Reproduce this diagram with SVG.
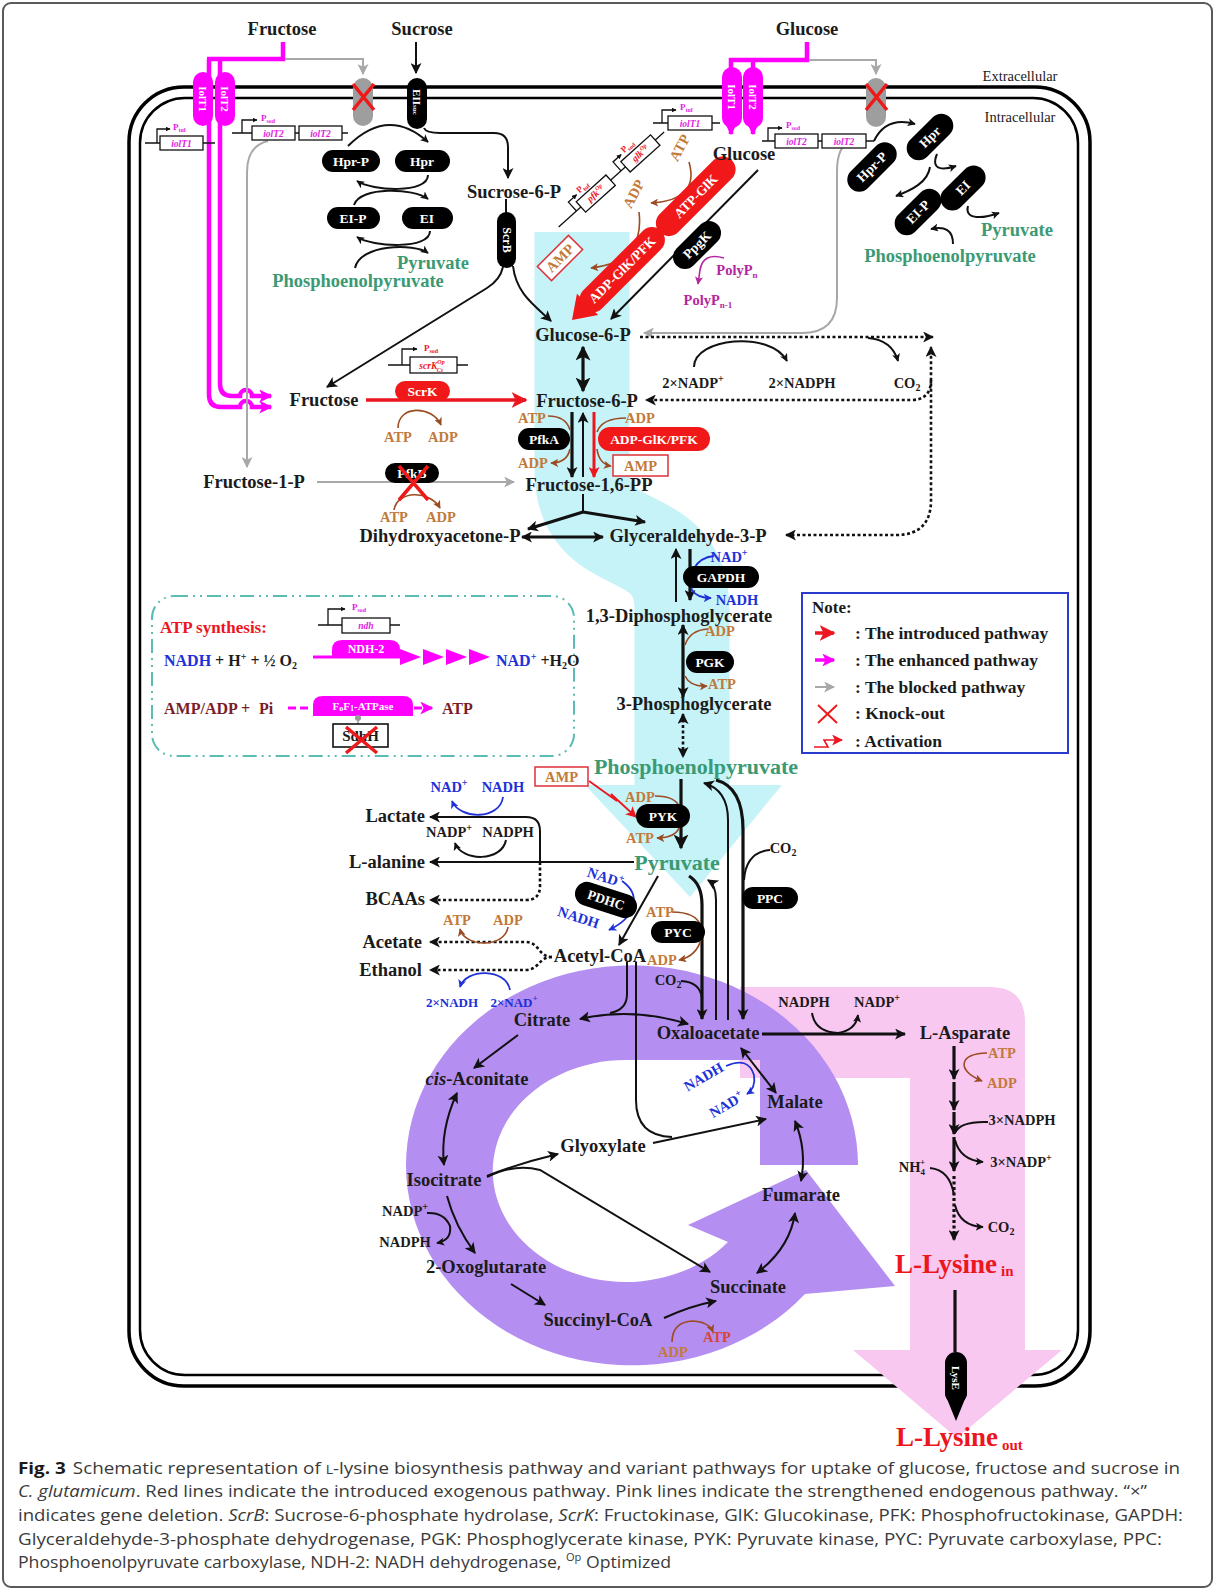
<svg xmlns="http://www.w3.org/2000/svg" width="1215" height="1591" viewBox="0 0 1215 1591">
<defs>
<style>
text{font-family:"Liberation Serif","Times New Roman",serif;font-weight:bold;fill:#1b1b1b}
.c{text-anchor:middle}
.e{text-anchor:end}
.L{font-size:18.5px}
.B{font-size:22px}
.S{font-size:14.5px}
.gr{fill:#3b9a74}
.or{fill:#c27a3a}
.bl{fill:#2131d8}
.rd{fill:#ec1620}
.mg{fill:#e11ee1}
.pp{fill:#b5259f}
.mr{fill:#7b1d28}
.pt{fill:#fff;font-size:13.5px;text-anchor:middle;dominant-baseline:central}
.pill{fill:#000}
.rpill{fill:#f01818}
.gi{font-size:9.5px;font-style:italic;text-anchor:middle}
.pl{font-size:9px}
.ln{fill:none;stroke:#111;stroke-width:2}
.th{fill:none;stroke:#111;stroke-width:3.2}
.dt{fill:none;stroke:#111;stroke-width:2.6;stroke-dasharray:3 2.5}
.gy{fill:none;stroke:#a8a8a8;stroke-width:2}
.mgl{fill:none;stroke:#ff00ff;stroke-width:4.5}
.br{fill:none;stroke:#9b4b22;stroke-width:1.6}
.bu{fill:none;stroke:#2131d8;stroke-width:1.8}
.gl{fill:none;stroke:#111;stroke-width:1.3}
.gb{fill:#fff;stroke:#111;stroke-width:1.3}
.cap{font-family:"Open Sans","Liberation Sans",sans-serif;font-weight:normal;font-size:16px;fill:#3a3a3a}
</style>
<marker id="ak" viewBox="0 0 10 10" refX="9" refY="5" markerWidth="11" markerHeight="11" markerUnits="userSpaceOnUse" orient="auto-start-reverse"><path d="M0,0 L10,5 L0,10 L2.5,5 z" fill="#111"/></marker>
<marker id="akl" viewBox="0 0 10 10" refX="9" refY="5" markerWidth="15" markerHeight="15" markerUnits="userSpaceOnUse" orient="auto-start-reverse"><path d="M0,0 L10,5 L0,10 L2.5,5 z" fill="#111"/></marker>
<marker id="aks" viewBox="0 0 10 10" refX="9" refY="5" markerWidth="8" markerHeight="8" markerUnits="userSpaceOnUse" orient="auto-start-reverse"><path d="M0,0 L10,5 L0,10 L2.5,5 z" fill="#111"/></marker>
<marker id="ar" viewBox="0 0 10 10" refX="9" refY="5" markerWidth="16" markerHeight="16" markerUnits="userSpaceOnUse" orient="auto-start-reverse"><path d="M0,0 L10,5 L0,10 L2.5,5 z" fill="#ec1620"/></marker>
<marker id="ars" viewBox="0 0 10 10" refX="9" refY="5" markerWidth="11" markerHeight="11" markerUnits="userSpaceOnUse" orient="auto-start-reverse"><path d="M0,0 L10,5 L0,10 L2.5,5 z" fill="#ec1620"/></marker>
<marker id="am" viewBox="0 0 10 10" refX="9" refY="5" markerWidth="13" markerHeight="13" markerUnits="userSpaceOnUse" orient="auto-start-reverse"><path d="M0,0 L10,5 L0,10 L2.5,5 z" fill="#ff00ff"/></marker>
<marker id="ams" viewBox="0 0 10 10" refX="9" refY="5" markerWidth="8" markerHeight="8" markerUnits="userSpaceOnUse" orient="auto-start-reverse"><path d="M0,0 L10,5 L0,10 L2.5,5 z" fill="#b5259f"/></marker>
<marker id="ag" viewBox="0 0 10 10" refX="9" refY="5" markerWidth="11" markerHeight="11" markerUnits="userSpaceOnUse" orient="auto-start-reverse"><path d="M0,0 L10,5 L0,10 L2.5,5 z" fill="#a8a8a8"/></marker>
<marker id="ab" viewBox="0 0 10 10" refX="9" refY="5" markerWidth="8" markerHeight="8" markerUnits="userSpaceOnUse" orient="auto-start-reverse"><path d="M0,0 L10,5 L0,10 L2.5,5 z" fill="#9b4b22"/></marker>
<marker id="au" viewBox="0 0 10 10" refX="9" refY="5" markerWidth="8" markerHeight="8" markerUnits="userSpaceOnUse" orient="auto-start-reverse"><path d="M0,0 L10,5 L0,10 L2.5,5 z" fill="#2131d8"/></marker>
<marker id="ap" viewBox="0 0 10 10" refX="9" refY="5" markerWidth="5" markerHeight="5" markerUnits="userSpaceOnUse" orient="auto"><path d="M0,0 L10,5 L0,10 z" fill="#111"/></marker>
</defs>

<!-- page frame and cell envelope -->
<rect id="figure-frame" x="3" y="3" width="1209" height="1584" rx="8" fill="#fff" stroke="#5a5a5a" stroke-width="2"/>
<g id="membrane" fill="none" stroke="#000">
<rect x="129" y="87" width="961" height="1299" rx="55" stroke-width="3.5"/>
<rect x="140" y="98" width="938" height="1277" rx="45" stroke-width="2.5"/>
</g>

<!-- broad flux bands: glycolysis (cyan), lysine (pink), TCA ring (purple) -->
<g id="flux-bands">
<path d="M582,232 V470 C582,560 682,520 682,610 V790" fill="none" stroke="#c6f3f8" stroke-width="95"/>
<polygon points="585,785 782,785 690,897" fill="#c6f3f8"/>
<path d="M740,987 H990 Q1025,987 1025,1022 V1350 H1062 L957,1438 L853,1350 H910 V1078 H740 Z" fill="#f9c8f1"/>
<path d="M858,1165 A226,200 0 1 0 805,1294 L895,1286 L806,1170 L688,1225 L728,1242 A133,111 0 1 1 626,1060 L760,1060 L760,1165 Z" fill="#b48ef0"/>
</g>

<text x="1020" y="81" class="c" style="font-size:14.5px;font-weight:normal">Extracellular</text>
<text x="1020" y="122" class="c" style="font-size:14.5px;font-weight:normal">Intracellular</text>

<g id="connectors">
<!-- enhanced IolT uptake -->
<path class="mgl" d="M283,42 V59 H207"/>
<path class="mgl" d="M209,59 V395 Q209,407 221,407 H240 A6,6 0 0 1 252,407 H271" marker-end="url(#am)"/>
<path class="mgl" d="M220,59 V384 Q220,396 232,396 H240 A6,6 0 0 1 252,396 H271" marker-end="url(#am)"/>
<path class="mgl" d="M807,42 V60 H731 V134" marker-end="url(#am)"/>
<path class="mgl" d="M753,60 V134" marker-end="url(#am)"/>
<!-- blocked PTS routes -->
<path class="gy" d="M285,59 H363 V74" marker-end="url(#ag)"/>
<path class="gy" d="M809,60 H876 V74" marker-end="url(#ag)"/>
<path class="gy" d="M268,141 Q247,146 247,172 V467" marker-end="url(#ag)"/>
<path class="gy" d="M850,142 Q837,146 837,172 V298 Q837,333 802,333 H644" marker-end="url(#ag)"/>
<path class="gy" d="M317,482 H514" marker-end="url(#ag)"/>
<!-- sucrose -->
<path class="ln" d="M416,42 V73" marker-end="url(#ak)"/>
<path class="ln" d="M424,128 Q426,133 440,133 H494 Q508,133 508,147 V178" marker-end="url(#ak)"/>
<path class="ln" d="M506,199 V214"/>
<path class="ln" d="M513,266 C516,293 534,305 551,321" marker-end="url(#ak)"/>
<path class="ln" d="M503,267 Q500,280 487,288 L327,387" marker-end="url(#ak)"/>
<!-- PTS phosphoryl relay, left -->
<path class="ln" d="M348,146 Q388,106 428,142" marker-end="url(#aks)"/>
<path class="ln" d="M428,175 C428,194 372,191 357,181" marker-end="url(#aks)"/>
<path class="ln" d="M354,205 C360,186 414,188 428,199" marker-end="url(#aks)"/>
<path class="ln" d="M430,231 C430,250 372,247 357,237" marker-end="url(#aks)"/>
<path class="ln" d="M355,268 C360,244 414,243 428,253" marker-end="url(#aks)"/>
<!-- PTS phosphoryl relay, right -->
<path class="ln" d="M874,141 Q886,116 915,124" marker-end="url(#aks)"/>
<path class="ln" d="M937,154 C930,171 944,170 956,166" marker-end="url(#aks)"/>
<path class="ln" d="M930,167 C928,182 912,190 896,196" marker-end="url(#aks)"/>
<path class="ln" d="M968,206 C964,221 985,218 999,213" marker-end="url(#aks)"/>
<path class="ln" d="M953,244 C953,230 945,226 931,229" marker-end="url(#aks)"/>
<!-- glucose phosphorylation -->
<path class="ln" d="M758,170 L611,319" marker-end="url(#ak)"/>
<path class="br" d="M689,162 Q700,200 651,203" marker-end="url(#ab)"/>
<path class="br" d="M639,212 Q645,262 591,268" marker-end="url(#ab)"/>
<path d="M724,258 Q703,252 700,270 L698,284" fill="none" stroke="#b5259f" stroke-width="1.6" marker-end="url(#ams)"/>
<!-- upper glycolysis -->
<path class="th" d="M583,347 V391" marker-start="url(#akl)" marker-end="url(#akl)"/>
<path class="th" d="M572,412 V477" marker-end="url(#ak)"/>
<path class="ln" d="M583,477 V413" marker-end="url(#ak)"/>
<path d="M594,412 V477" fill="none" stroke="#ec1620" stroke-width="3" marker-end="url(#ars)"/>
<path class="br" d="M548,416 Q566,416 570,430"/>
<path class="br" d="M570,449 Q567,463 551,463" marker-end="url(#ab)"/>
<path class="br" d="M626,418 Q602,418 597,432"/>
<path class="br" d="M597,449 Q599,464 611,466" marker-end="url(#ab)"/>
<path d="M366,400 H526" fill="none" stroke="#ec1620" stroke-width="3.5" marker-end="url(#ar)"/>
<path class="br" d="M398,428 C398,405 432,405 441,425" marker-end="url(#ab)"/>
<path class="br" d="M394,510 C397,490 430,490 440,508" marker-end="url(#ab)"/>
<path class="ln" d="M583,494 V512"/>
<path class="th" d="M583,512 L528,529" marker-end="url(#ak)"/>
<path class="th" d="M583,512 L645,522" marker-end="url(#ak)"/>
<path class="th" d="M522,537 H603" marker-start="url(#ak)" marker-end="url(#ak)"/>
<!-- lower glycolysis -->
<path class="ln" d="M676,602 V549" marker-end="url(#ak)"/>
<path class="th" d="M690,549 V600" marker-end="url(#ak)"/>
<path class="bu" d="M714,556 C694,558 688,576 692,590 Q697,598 711,598" marker-end="url(#au)"/>
<path class="th" d="M683,625 V697" marker-start="url(#ak)" marker-end="url(#ak)"/>
<path class="br" d="M708,629 Q690,630 685,645"/>
<path class="br" d="M685,676 Q690,687 707,686" marker-end="url(#ab)"/>
<path class="dt" d="M683,714 V757" marker-start="url(#ak)" marker-end="url(#ak)"/>
<path class="th" d="M681,779 V848" marker-end="url(#akl)"/>
<path class="br" d="M655,796 Q676,796 680,808"/>
<path class="br" d="M680,826 Q676,838 657,838" marker-end="url(#ab)"/>
<path d="M589,781 L617,801 L611,794 L636,817" fill="none" stroke="#ec1620" stroke-width="1.8" marker-end="url(#ars)"/>
<!-- pentose phosphate shunt -->
<path class="dt" d="M640,337 H933" marker-end="url(#ak)"/>
<path class="dt" d="M786,535 H896 Q931,535 931,500 V347" marker-start="url(#ak)" marker-end="url(#ak)"/>
<path class="dt" d="M931,380 Q931,400 911,400 H646" marker-end="url(#ak)"/>
<path class="ln" d="M694,367 C694,338 770,330 787,361" marker-end="url(#aks)"/>
<path class="ln" d="M868,338 Q892,340 898,361" marker-end="url(#aks)"/>
<!-- pyruvate node branches -->
<path class="ln" d="M634,862 H430" marker-end="url(#ak)"/>
<path class="ln" d="M540,862 V831 Q540,817 526,817 H430" marker-end="url(#ak)"/>
<path class="dt" d="M540,862 V886 Q540,900 526,900 H430" marker-end="url(#ak)"/>
<path class="bu" d="M503,797 C500,820 460,820 452,801" marker-end="url(#au)"/>
<path class="ln" d="M506,840 C502,862 462,862 455,843" marker-end="url(#aks)"/>
<path class="ln" d="M658,876 L619,945" marker-end="url(#ak)"/>
<path class="bu" d="M622,881 C642,895 636,917 609,930" marker-end="url(#au)"/>
<path class="dt" d="M552,957 C538,957 540,942 525,942 H430" marker-end="url(#ak)"/>
<path class="dt" d="M552,957 C538,957 540,970 525,970 H430" marker-end="url(#ak)"/>
<path class="br" d="M508,927 C505,948 465,948 460,929" marker-end="url(#ab)"/>
<path class="bu" d="M510,990 C506,968 466,968 460,987" marker-end="url(#au)"/>
<!-- anaplerotic reactions -->
<path class="th" d="M689,876 Q702,884 702,905 V1019" marker-end="url(#ak)"/>
<path class="br" d="M672,912 Q696,912 701,926"/>
<path class="br" d="M701,939 Q697,956 679,960" marker-end="url(#ab)"/>
<path class="ln" d="M716,1020 V900 Q716,885 708,880" marker-end="url(#ak)"/>
<path class="ln" d="M728,1020 V820 Q728,790 704,783" marker-end="url(#ak)"/>
<path class="th" d="M716,780 Q743,787 743,830 V1019" marker-end="url(#ak)"/>
<path class="ln" d="M770,850 Q746,852 744,880"/>
<path class="ln" d="M681,981 Q700,982 702,998"/>
<!-- TCA cycle and glyoxylate shunt -->
<path class="ln" d="M580,1019 Q632,1007 688,1024" marker-start="url(#ak)" marker-end="url(#ak)"/>
<path class="ln" d="M627,962 V994 Q627,1010 610,1013"/>
<path class="ln" d="M636,962 V1100 Q636,1136 672,1137"/>
<path class="ln" d="M653,1143 L766,1119" marker-end="url(#ak)"/>
<path class="ln" d="M487,1176 Q520,1163 558,1154" marker-end="url(#ak)"/>
<path class="ln" d="M487,1177 Q515,1163 540,1170 L710,1272" marker-end="url(#ak)"/>
<path class="ln" d="M518,1035 L474,1068" marker-end="url(#ak)"/>
<path class="ln" d="M457,1093 Q440,1130 444,1165" marker-start="url(#ak)" marker-end="url(#ak)"/>
<path class="ln" d="M447,1196 Q455,1226 475,1253" marker-end="url(#ak)"/>
<path class="ln" d="M427,1213 Q444,1212 450,1226 Q452,1240 437,1243" marker-end="url(#aks)"/>
<path class="ln" d="M511,1284 L545,1305" marker-end="url(#ak)"/>
<path class="ln" d="M664,1318 Q690,1306 716,1301" marker-end="url(#ak)"/>
<path class="br" d="M672,1342 Q672,1322 693,1321 Q709,1322 713,1332" marker-end="url(#ab)"/>
<path class="ln" d="M757,1273 Q790,1248 795,1213" marker-start="url(#ak)" marker-end="url(#ak)"/>
<path class="ln" d="M801,1181 Q807,1150 795,1121" marker-start="url(#ak)" marker-end="url(#ak)"/>
<path class="ln" d="M776,1093 L741,1048" marker-start="url(#ak)" marker-end="url(#ak)"/>
<path class="bu" d="M726,1066 Q748,1056 754,1075 Q756,1088 747,1094" marker-end="url(#au)"/>
<!-- lysine branch -->
<path class="th" d="M762,1034 H905" marker-end="url(#ak)"/>
<path class="ln" d="M812,1013 Q815,1032 838,1033 Q856,1030 858,1015" marker-end="url(#aks)"/>
<path class="th" d="M954,1046 V1079" marker-end="url(#ak)"/>
<path class="th" d="M954,1082 V1110" marker-end="url(#ak)"/>
<path class="th" d="M954,1112 V1134" marker-end="url(#ak)"/>
<path class="th" d="M954,1137 V1171" marker-end="url(#ak)"/>
<path class="dt" d="M954,1176 V1240" style="stroke-width:3.2" marker-end="url(#ak)"/>
<path class="br" d="M987,1053 C960,1053 955,1070 982,1081" marker-end="url(#ab)"/>
<path class="ln" d="M988,1122 Q960,1121 955,1133"/>
<path class="ln" d="M955,1140 Q960,1160 983,1162" marker-end="url(#aks)"/>
<path class="ln" d="M930,1168 Q950,1170 954,1195"/>
<path class="ln" d="M955,1205 Q960,1226 983,1227" marker-end="url(#aks)"/>
<path class="th" d="M955,1290 V1352"/>
</g>

<!-- transporters -->
<g id="t-iolT1-fru"><rect x="193" y="72" width="20" height="54" rx="10" fill="#ff00ff"/><text class="pt" transform="translate(203,99) rotate(90)" style="font-size:11px">IolT1</text></g>
<g id="t-iolT2-fru"><rect x="215" y="72" width="20" height="54" rx="10" fill="#ff00ff"/><text class="pt" transform="translate(225,99) rotate(90)" style="font-size:11px">IolT2</text></g>
<g id="t-pts-fru"><rect x="353" y="78" width="20" height="48" rx="10" fill="#9e9e9e"/><path d="M353,84 L374,110 M374,84 L353,110" stroke="#ee1a1a" stroke-width="3.5"/></g>
<g id="t-eiisuc"><rect x="407" y="78" width="20" height="51" rx="10" class="pill"/><text class="pt" transform="translate(417,102) rotate(90)" style="font-size:11px">EII<tspan font-size="7" dy="2">suc</tspan></text></g>
<g id="t-iolT1-glc"><rect x="722" y="67" width="20" height="61" rx="10" fill="#ff00ff"/><text class="pt" transform="translate(732,97) rotate(90)" style="font-size:11px">IolT1</text></g>
<g id="t-iolT2-glc"><rect x="743" y="67" width="20" height="61" rx="10" fill="#ff00ff"/><text class="pt" transform="translate(753,97) rotate(90)" style="font-size:11px">IolT2</text></g>
<g id="t-pts-glc"><rect x="866" y="78" width="20" height="49" rx="10" fill="#9e9e9e"/><path d="M866,84 L887,110 M887,84 L866,110" stroke="#ee1a1a" stroke-width="3.5"/></g>
<g id="t-lysE"><rect x="945" y="1352" width="22" height="52" rx="11" class="pill"/><polygon points="945,1394 967,1394 956,1421" class="pill"/><text class="pt" transform="translate(956,1378) rotate(90)" style="font-size:11px">LysE</text></g>

<!-- expression cassettes -->
<g id="g-iolT1-a">
<path class="gl" d="M145,143 H215"/>
<rect class="gb" x="160" y="136" width="43" height="14"/>
<text class="gi mg" x="181.5" y="146.5">iolT1</text>
<path class="gl" d="M157,143 V129 H170" marker-end="url(#ap)"/>
<text class="pl mg" x="173" y="130">P<tspan font-size="6" dy="2">tuf</tspan></text>
</g>
<g id="g-iolT2-a">
<path class="gl" d="M232,133 H348"/>
<rect class="gb" x="252" y="126" width="43" height="14"/>
<rect class="gb" x="299" y="126" width="43" height="14"/>
<text class="gi mg" x="273.5" y="136.5">iolT2</text>
<text class="gi mg" x="320.5" y="136.5">iolT2</text>
<path class="gl" d="M242,133 V120 H257" marker-end="url(#ap)"/>
<text class="pl mg" x="261" y="121">P<tspan font-size="6" dy="2">sod</tspan></text>
</g>
<g id="g-iolT1-b">
<path class="gl" d="M653,123 H720"/>
<rect class="gb" x="668" y="116" width="44" height="14"/>
<text class="gi mg" x="690" y="126.5">iolT1</text>
<path class="gl" d="M662,123 V110 H676" marker-end="url(#ap)"/>
<text class="pl mg" x="680" y="110">P<tspan font-size="6" dy="2">tuf</tspan></text>
</g>
<g id="g-iolT2-b">
<path class="gl" d="M762,141 H874"/>
<rect class="gb" x="775" y="134" width="43" height="14"/>
<rect class="gb" x="822" y="134" width="44" height="14"/>
<text class="gi mg" x="796.5" y="144.5">iolT2</text>
<text class="gi mg" x="844" y="144.5">iolT2</text>
<path class="gl" d="M768,141 V128 H782" marker-end="url(#ap)"/>
<text class="pl mg" x="786" y="128">P<tspan font-size="6" dy="2">sod</tspan></text>
</g>
<g id="g-glk-pfk" transform="translate(572,215) rotate(-42)">
<path class="gl" d="M-18,0 H124"/>
<rect class="gb" x="12" y="-7" width="40" height="14"/>
<text class="gi rd" x="32" y="3">pfk<tspan font-size="6" dy="-4">Op</tspan></text>
<path class="gl" d="M6,0 V-12 H17" marker-end="url(#ap)"/>
<text class="pl rd" x="20" y="-11">P<tspan font-size="6" dy="2">tuf</tspan></text>
<rect class="gb" x="72" y="-7" width="40" height="14"/>
<text class="gi rd" x="92" y="3">glk<tspan font-size="6" dy="-4">Op</tspan></text>
<path class="gl" d="M66,0 V-12 H77" marker-end="url(#ap)"/>
<text class="pl rd" x="80" y="-11">P<tspan font-size="6" dy="2">sod</tspan></text>
</g>
<g id="g-scrK">
<path class="gl" d="M388,365 H468"/>
<rect class="gb" x="410" y="357" width="47" height="16"/>
<text class="gi rd" x="432" y="369">scrK<tspan font-size="6" dy="-5">Op</tspan><tspan font-size="6" dx="-8" dy="8">Cs</tspan></text>
<path class="gl" d="M402,365 V349 H417" marker-end="url(#ap)"/>
<text class="pl rd" x="424" y="351">P<tspan font-size="6" dy="2">sod</tspan></text>
</g>

<!-- enzymes -->
<g id="e-hpr-p"><rect x="322" y="150" width="58" height="22" rx="11" class="pill"/><text class="pt" x="351" y="161">Hpr-P</text></g>
<g id="e-hpr"><rect x="395" y="150" width="55" height="22" rx="11" class="pill"/><text class="pt" x="422" y="161">Hpr</text></g>
<g id="e-ei-p"><rect x="327" y="207" width="53" height="22" rx="11" class="pill"/><text class="pt" x="353" y="218">EI-P</text></g>
<g id="e-ei"><rect x="402" y="207" width="51" height="22" rx="11" class="pill"/><text class="pt" x="427" y="218">EI</text></g>
<g id="e-hpr-p-2" transform="translate(872,167) rotate(-45)"><rect x="-30" y="-12" width="60" height="24" rx="12" class="pill"/><text class="pt">Hpr-P</text></g>
<g id="e-hpr-2" transform="translate(930,137) rotate(-45)"><rect x="-28" y="-12" width="56" height="24" rx="12" class="pill"/><text class="pt">Hpr</text></g>
<g id="e-ei-p-2" transform="translate(918,212) rotate(-45)"><rect x="-28" y="-12" width="56" height="24" rx="12" class="pill"/><text class="pt">EI-P</text></g>
<g id="e-ei-2" transform="translate(963,188) rotate(-45)"><rect x="-27" y="-12" width="54" height="24" rx="12" class="pill"/><text class="pt">EI</text></g>
<g id="e-scrB"><rect x="497" y="212" width="19" height="56" rx="9.5" class="pill"/><text class="pt" transform="translate(506.5,240) rotate(90)" style="font-size:12px">ScrB</text></g>
<g id="e-glk" transform="translate(572,320) rotate(-45)">
<polygon points="0,0 22,-15 22,15" fill="#f01818"/>
<rect x="16" y="-13" width="110" height="26" rx="13" class="rpill"/>
<rect x="124" y="-13" width="102" height="26" rx="13" class="rpill"/>
<text class="pt" x="71">ADP-GlK/PFK</text>
<text class="pt" x="175">ATP-GlK</text>
</g>
<g id="e-ppgk" transform="translate(697,245) rotate(-45)"><rect x="-29" y="-12" width="58" height="24" rx="12" class="pill"/><text class="pt">PpgK</text></g>
<g id="e-scrK"><rect x="395" y="381" width="55" height="20" rx="10" class="rpill"/><text class="pt" x="422.5" y="391">ScrK</text></g>
<g id="e-pfkA"><rect x="518" y="428" width="52" height="22" rx="11" class="pill"/><text class="pt" x="544" y="439">PfkA</text></g>
<g id="e-adp-pfk"><rect x="598" y="427" width="112" height="24" rx="12" class="rpill"/><text class="pt" x="654" y="439">ADP-GlK/PFK</text></g>
<g id="e-pfkB"><rect x="385" y="463" width="54" height="20" rx="10" class="pill"/><text class="pt" x="412" y="473">PfkB</text><path d="M399,466 L428,500 M428,466 L399,500" stroke="#ee1a1a" stroke-width="3.5"/></g>
<g id="e-gapdh"><rect x="683" y="566" width="76" height="22" rx="11" class="pill"/><text class="pt" x="721" y="577">GAPDH</text></g>
<g id="e-pgk"><rect x="686" y="651" width="48" height="22" rx="11" class="pill"/><text class="pt" x="710" y="662">PGK</text></g>
<g id="e-pyk"><rect x="636" y="804" width="54" height="24" rx="12" class="pill"/><text class="pt" x="663" y="816">PYK</text></g>
<g id="e-pdhc" transform="translate(606,900) rotate(18)"><rect x="-32" y="-12" width="64" height="24" rx="12" class="pill"/><text class="pt">PDHC</text></g>
<g id="e-pyc"><rect x="651" y="921" width="54" height="22" rx="11" class="pill"/><text class="pt" x="678" y="932">PYC</text></g>
<g id="e-ppc"><rect x="742" y="887" width="56" height="22" rx="11" class="pill"/><text class="pt" x="770" y="898">PPC</text></g>

<!-- metabolites -->
<g id="n-fructose-ext"><text class="L c" x="282" y="35">Fructose</text></g>
<g id="n-sucrose-ext"><text class="L c" x="422" y="35">Sucrose</text></g>
<g id="n-glucose-ext"><text class="L c" x="807" y="35">Glucose</text></g>
<g id="n-glucose"><text class="L c" x="744" y="160">Glucose</text></g>
<g id="n-sucrose6p"><text class="L c" x="514" y="198">Sucrose-6-P</text></g>
<g id="n-g6p"><text class="L c" x="583" y="341">Glucose-6-P</text></g>
<g id="n-fructose"><text class="L c" x="324" y="406">Fructose</text></g>
<g id="n-f6p"><text class="L c" x="587" y="407">Fructose-6-P</text></g>
<g id="n-f16pp"><text class="L c" x="589" y="491">Fructose-1,6-PP</text></g>
<g id="n-f1p"><text class="L c" x="254" y="488">Fructose-1-P</text></g>
<g id="n-dhap"><text class="L c" x="440" y="542">Dihydroxyacetone-P</text></g>
<g id="n-gap"><text class="L c" x="688" y="542">Glyceraldehyde-3-P</text></g>
<g id="n-13dpg"><text class="L c" x="679" y="622">1,3-Diphosphoglycerate</text></g>
<g id="n-3pg"><text class="L c" x="694" y="710">3-Phosphoglycerate</text></g>
<g id="n-pep"><text class="B c gr" x="696" y="774">Phosphoenolpyruvate</text></g>
<g id="n-pyr"><text class="B c gr" x="677" y="870">Pyruvate</text></g>
<g id="n-pts-pyr-a"><text class="L c gr" x="433" y="269">Pyruvate</text></g>
<g id="n-pts-pep-a"><text class="L c gr" x="358" y="287">Phosphoenolpyruvate</text></g>
<g id="n-pts-pyr-b"><text class="L c gr" x="1017" y="236">Pyruvate</text></g>
<g id="n-pts-pep-b"><text class="L c gr" x="950" y="262">Phosphoenolpyruvate</text></g>
<g id="n-lactate"><text class="L e" x="425" y="822">Lactate</text></g>
<g id="n-alanine"><text class="L e" x="425" y="868">L-alanine</text></g>
<g id="n-bcaas"><text class="L e" x="425" y="905">BCAAs</text></g>
<g id="n-acetate"><text class="L e" x="422" y="948">Acetate</text></g>
<g id="n-ethanol"><text class="L e" x="422" y="976">Ethanol</text></g>
<g id="n-acetylcoa"><text class="L c" x="600" y="962">Acetyl-CoA</text></g>
<g id="n-citrate"><text class="L c" x="542" y="1026">Citrate</text></g>
<g id="n-oaa"><text class="L c" x="708" y="1039">Oxaloacetate</text></g>
<g id="n-cisaconitate"><text class="L c" x="477" y="1085"><tspan font-style="italic">cis</tspan>-Aconitate</text></g>
<g id="n-malate"><text class="L c" x="795" y="1108">Malate</text></g>
<g id="n-glyoxylate"><text class="L c" x="603" y="1152">Glyoxylate</text></g>
<g id="n-isocitrate"><text class="L c" x="444" y="1186">Isocitrate</text></g>
<g id="n-fumarate"><text class="L c" x="801" y="1201">Fumarate</text></g>
<g id="n-2og"><text class="L c" x="486" y="1273">2-Oxoglutarate</text></g>
<g id="n-succinate"><text class="L c" x="748" y="1293">Succinate</text></g>
<g id="n-succinylcoa"><text class="L c" x="598" y="1326">Succinyl-CoA</text></g>
<g id="n-asp"><text class="L c" x="965" y="1039">L-Asparate</text></g>
<g id="n-lys-in"><text class="rd" x="895" y="1273" style="font-size:27px">L-Lysine<tspan font-size="15" dx="4" dy="3">in</tspan></text></g>
<g id="n-lys-out"><text class="rd" x="896" y="1446" style="font-size:27px">L-Lysine<tspan font-size="15" dx="4" dy="4">out</tspan></text></g>

<!-- cofactors -->
<g id="cofactors" class="S">
<text class="S c or" transform="translate(684,150) rotate(-62)">ATP</text>
<text class="S c or" transform="translate(638,196) rotate(-62)">ADP</text>
<g transform="translate(560,258) rotate(-45)"><rect x="-22" y="-10" width="44" height="20" fill="#fff" stroke="#e0303a" stroke-width="1.5"/><text class="S c or" y="5">AMP</text></g>
<text class="S c pp" x="737" y="275">PolyP<tspan font-size="9" dy="3">n</tspan></text>
<text class="S c pp" x="708" y="305">PolyP<tspan font-size="9" dy="3">n-1</tspan></text>
<text class="S c or" x="398" y="442">ATP</text>
<text class="S c or" x="443" y="442">ADP</text>
<text class="S c or" x="532" y="423">ATP</text>
<text class="S c or" x="533" y="468">ADP</text>
<text class="S c or" x="640" y="423">ADP</text>
<rect x="613" y="455" width="55" height="21" fill="#fff" stroke="#e0303a" stroke-width="1.5"/>
<text class="S c or" x="640.5" y="470.5">AMP</text>
<text class="S c or" x="394" y="522">ATP</text>
<text class="S c or" x="441" y="522">ADP</text>
<text class="S c" x="693" y="388">2×NADP<tspan font-size="10" dy="-6">+</tspan></text>
<text class="S c" x="802" y="388">2×NADPH</text>
<text class="S c" x="907" y="388">CO<tspan font-size="10" dy="3">2</tspan></text>
<text class="S c bl" x="729" y="562">NAD<tspan font-size="10" dy="-6">+</tspan></text>
<text class="S c bl" x="737" y="605">NADH</text>
<text class="S c or" x="720" y="636">ADP</text>
<text class="S c or" x="722" y="689">ATP</text>
<rect x="535" y="767" width="53" height="19" fill="#fff" stroke="#e0303a" stroke-width="1.5"/>
<text class="S c or" x="561.5" y="781.5">AMP</text>
<text class="S c or" x="640" y="802">ADP</text>
<text class="S c or" x="640" y="843">ATP</text>
<text class="S c bl" x="449" y="792">NAD<tspan font-size="10" dy="-6">+</tspan></text>
<text class="S c bl" x="503" y="792">NADH</text>
<text class="S c" x="449" y="837">NADP<tspan font-size="10" dy="-6">+</tspan></text>
<text class="S c" x="508" y="837">NADPH</text>
<text class="S c bl" transform="translate(604,882) rotate(18)">NAD<tspan font-size="10" dy="-6">+</tspan></text>
<text class="S c bl" transform="translate(577,922) rotate(18)">NADH</text>
<text class="S c or" x="660" y="917">ATP</text>
<text class="S c or" x="662" y="965">ADP</text>
<text class="S c" x="783" y="853">CO<tspan font-size="10" dy="3">2</tspan></text>
<text class="S c or" x="457" y="925">ATP</text>
<text class="S c or" x="508" y="925">ADP</text>
<text class="S c bl" x="452" y="1007" style="font-size:13px">2×NADH</text>
<text class="S c bl" x="514" y="1007" style="font-size:13px">2×NAD<tspan font-size="9" dy="-6">+</tspan></text>
<text class="S c" x="668" y="985">CO<tspan font-size="10" dy="3">2</tspan></text>
<text class="S c" x="804" y="1007">NADPH</text>
<text class="S c" x="877" y="1007">NADP<tspan font-size="10" dy="-6">+</tspan></text>
<text class="S c or" x="1002" y="1058">ATP</text>
<text class="S c or" x="1002" y="1088">ADP</text>
<text class="S c" x="1022" y="1125">3×NADPH</text>
<text class="S c" x="1021" y="1167">3×NADP<tspan font-size="10" dy="-6">+</tspan></text>
<text class="S c" x="912" y="1172">NH<tspan font-size="9" dy="3">4</tspan><tspan font-size="9" dx="-5" dy="-10">+</tspan></text>
<text class="S c" x="1001" y="1232">CO<tspan font-size="10" dy="3">2</tspan></text>
<text class="S c bl" transform="translate(706,1081) rotate(-30)">NADH</text>
<text class="S c bl" transform="translate(729,1109) rotate(-30)">NAD<tspan font-size="10" dy="-6">+</tspan></text>
<text class="S c" x="405" y="1216">NADP<tspan font-size="10" dy="-6">+</tspan></text>
<text class="S c" x="405" y="1247">NADPH</text>
<text class="S c or" x="673" y="1357">ADP</text>
<text class="S c" x="717" y="1342" style="fill:#d4463a">ATP</text>
</g>

<!-- energy module -->
<g id="atp-synthesis">
<rect x="152" y="596" width="422" height="160" rx="22" fill="none" stroke="#5bbcb3" stroke-width="2" stroke-dasharray="14 5 2 5 2 5"/>
<text class="rd" x="160" y="633" style="font-size:17px">ATP synthesis:</text>
<path class="gl" d="M318,625 H400"/>
<rect class="gb" x="342" y="618" width="48" height="15"/>
<text class="gi mg" x="366" y="629">ndh</text>
<path class="gl" d="M328,625 V609 H345" marker-end="url(#ap)"/>
<text class="pl mg" x="352" y="610">P<tspan font-size="6" dy="2">sod</tspan></text>
<path d="M313,657 H402" stroke="#ff00ff" stroke-width="3"/>
<path d="M332,658 V650 Q332,640 342,640 H390 Q400,640 400,650 V658 Z" fill="#ff00ff"/>
<text class="pt" x="366" y="649" style="font-size:12px">NDH-2</text>
<polygon points="400,649 421,657 400,665" fill="#ff00ff"/>
<polygon points="423,649 444,657 423,665" fill="#ff00ff"/>
<polygon points="446,649 467,657 446,665" fill="#ff00ff"/>
<polygon points="469,649 490,657 469,665" fill="#ff00ff"/>
<text x="164" y="666" style="font-size:16px"><tspan class="bl">NADH</tspan> + H<tspan font-size="10" dy="-6">+</tspan><tspan dy="6"> + ½ O</tspan><tspan font-size="10" dy="3">2</tspan></text>
<text x="496" y="666" style="font-size:16px"><tspan class="bl">NAD<tspan font-size="10" dy="-6">+</tspan></tspan><tspan dy="6"> +H</tspan><tspan font-size="10" dy="3">2</tspan><tspan dy="-3">O</tspan></text>
<text class="mr" x="164" y="714" style="font-size:16px">AMP/ADP + <tspan dx="5">Pi</tspan></text>
<path d="M288,708 H312 M414,708 H432" stroke="#ff00ff" stroke-width="3" stroke-dasharray="8 4" marker-end="url(#am)"/>
<path d="M313,716 V705 Q313,696 323,696 H403 Q413,696 413,705 V716 Z" fill="#ff00ff"/>
<text class="pt" x="363" y="706" style="font-size:11px">F<tspan font-size="8" dy="2">o</tspan><tspan dy="-2">F</tspan><tspan font-size="8" dy="2">1</tspan><tspan dy="-2">-ATPase</tspan></text>
<text class="mr" x="442" y="714" style="font-size:16px">ATP</text>
<path d="M358,716 V724" stroke="#999" stroke-width="1.5"/>
<circle cx="358" cy="718" r="3" fill="#999"/>
<rect x="333" y="724" width="55" height="23" fill="#fff" stroke="#111" stroke-width="1.6"/>
<text class="c" x="360.5" y="741" style="font-size:15px">SdhH</text>
<path d="M346,727 L377,753 M377,727 L346,753" stroke="#ee1a1a" stroke-width="3.5"/>
</g>

<!-- legend -->
<g id="legend">
<rect x="802" y="593" width="266" height="160" fill="#fff" stroke="#2b3bcf" stroke-width="2"/>
<text x="812" y="613" style="font-size:17px">Note:</text>
<path d="M815,633 H834" stroke="#ec1620" stroke-width="3.5" marker-end="url(#ar)"/>
<path d="M815,660 H834" stroke="#ff00ff" stroke-width="3.5" marker-end="url(#am)"/>
<path d="M815,687 H834" stroke="#a8a8a8" stroke-width="2" marker-end="url(#ag)"/>
<path d="M818,705 L837,723 M837,705 L818,723" stroke="#ee1a1a" stroke-width="2"/>
<path d="M814,747 H828 L824,740 L842,740" fill="none" stroke="#ec1620" stroke-width="1.6" marker-end="url(#ars)"/>
<text x="855" y="639" style="font-size:17.5px">: The introduced pathway</text>
<text x="855" y="666" style="font-size:17.5px">: The enhanced pathway</text>
<text x="855" y="693" style="font-size:17.5px">: The blocked pathway</text>
<text x="855" y="719" style="font-size:17.5px">: Knock-out</text>
<text x="855" y="747" style="font-size:17.5px">: Activation</text>
</g>

<!-- figure caption -->
<g id="caption">
<text class="cap" x="18" y="1474" textLength="1162" lengthAdjust="spacingAndGlyphs"><tspan font-weight="bold" fill="#1a1a1a">Fig. 3</tspan><tspan dx="6">Schematic representation of </tspan><tspan font-size="12">L</tspan>-lysine biosynthesis pathway and variant pathways for uptake of glucose, fructose and sucrose in</text>
<text class="cap" x="18" y="1497" textLength="1129" lengthAdjust="spacingAndGlyphs"><tspan font-style="italic">C. glutamicum</tspan>. Red lines indicate the introduced exogenous pathway. Pink lines indicate the strengthened endogenous pathway. “×”</text>
<text class="cap" x="18" y="1521" textLength="1165" lengthAdjust="spacingAndGlyphs">indicates gene deletion. <tspan font-style="italic">ScrB</tspan>: Sucrose-6-phosphate hydrolase, <tspan font-style="italic">ScrK</tspan>: Fructokinase, GlK: Glucokinase, PFK: Phosphofructokinase, GAPDH:</text>
<text class="cap" x="18" y="1545" textLength="1144" lengthAdjust="spacingAndGlyphs">Glyceraldehyde-3-phosphate dehydrogenase, PGK: Phosphoglycerate kinase, PYK: Pyruvate kinase, PYC: Pyruvate carboxylase, PPC:</text>
<text class="cap" x="18" y="1568" textLength="653" lengthAdjust="spacingAndGlyphs">Phosphoenolpyruvate carboxylase, NDH-2: NADH dehydrogenase, <tspan font-size="10" dy="-7">Op</tspan><tspan dy="7"> Optimized</tspan></text>
</g>
</svg>
